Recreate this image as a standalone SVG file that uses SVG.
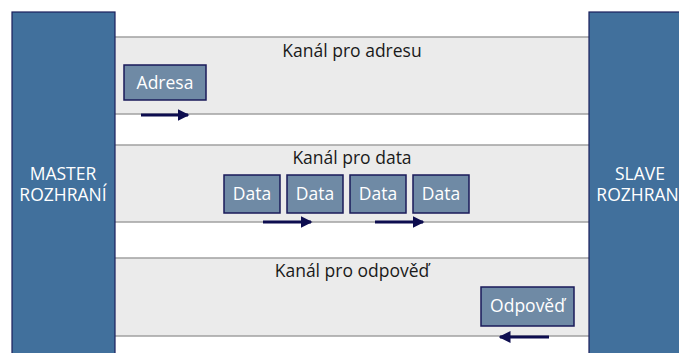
<svg xmlns="http://www.w3.org/2000/svg" width="679" height="353" viewBox="0 0 679 353">
<defs>
<style>
.iface{fill:#41709c;stroke:#1a1f5c;stroke-width:1.2}
.band{fill:#ebebeb}
.bline{stroke:#a0a0a0;stroke-width:1.5}
.pkt{fill:#6f8aa5;stroke:#1a1a5a;stroke-width:1.5}
.t{font-family:"Open Sans","Noto Sans",sans-serif;text-anchor:middle;font-size:17.5px}
.wt{fill:#ffffff}
.bt{fill:#1a1a1a}
.arr{stroke:#0d0d4f;stroke-width:3;fill:none;marker-end:url(#ah)}
</style>
<marker id="ah" markerWidth="4" markerHeight="4" refX="3.5" refY="2" orient="auto" markerUnits="strokeWidth">
<path d="M0,0 L4,2 L0,4 Z" fill="#0d0d4f"/>
</marker>
</defs>
<rect width="679" height="353" fill="#ffffff"/>
<g id="ch-adresa">
<rect class="band" x="115" y="37" width="474" height="77"/>
<line class="bline" x1="115" y1="37" x2="589" y2="37"/>
<line class="bline" x1="115" y1="114" x2="589" y2="114"/>
<text class="t bt" x="352" y="57">Kanál pro adresu</text>
</g>
<g id="ch-data">
<rect class="band" x="115" y="145" width="474" height="77"/>
<line class="bline" x1="115" y1="145" x2="589" y2="145"/>
<line class="bline" x1="115" y1="222" x2="589" y2="222"/>
<text class="t bt" x="352" y="164">Kanál pro data</text>
</g>
<g id="ch-odpoved">
<rect class="band" x="115" y="258" width="474" height="78"/>
<line class="bline" x1="115" y1="258" x2="589" y2="258"/>
<line class="bline" x1="115" y1="336" x2="589" y2="336"/>
<text class="t bt" x="352" y="277">Kanál pro odpověď</text>
</g>
<g id="master">
<rect class="iface" x="12" y="12" width="103" height="345"/>
<text class="t wt" x="63" y="180">MASTER</text>
<text class="t wt" x="63" y="201">ROZHRANÍ</text>
</g>
<g id="slave">
<rect class="iface" x="589" y="12" width="103" height="345"/>
<text class="t wt" x="640" y="180">SLAVE</text>
<text class="t wt" x="640" y="201">ROZHRANÍ</text>
</g>
<g id="adresa">
<rect class="pkt" x="124" y="65" width="82" height="35"/>
<text class="t wt" x="165" y="89">Adresa</text>
</g>
<g id="data1">
<rect class="pkt" x="224" y="175" width="56" height="38"/>
<text class="t wt" x="252" y="200">Data</text>
</g>
<g id="data2">
<rect class="pkt" x="287" y="175" width="56" height="38"/>
<text class="t wt" x="315" y="200">Data</text>
</g>
<g id="data3">
<rect class="pkt" x="350" y="175" width="56" height="38"/>
<text class="t wt" x="378" y="200">Data</text>
</g>
<g id="data4">
<rect class="pkt" x="413" y="175" width="56" height="38"/>
<text class="t wt" x="441" y="200">Data</text>
</g>
<g id="odpoved">
<rect class="pkt" x="481" y="287" width="93" height="39"/>
<text class="t wt" x="527.5" y="312">Odpověď</text>
</g>
<g id="connectors">
<line class="arr" x1="141" y1="115" x2="188" y2="115"/>
<line class="arr" x1="263" y1="222" x2="311" y2="222"/>
<line class="arr" x1="375" y1="222" x2="423" y2="222"/>
<line class="arr" x1="549" y1="337" x2="500" y2="337"/>
</g>
</svg>
